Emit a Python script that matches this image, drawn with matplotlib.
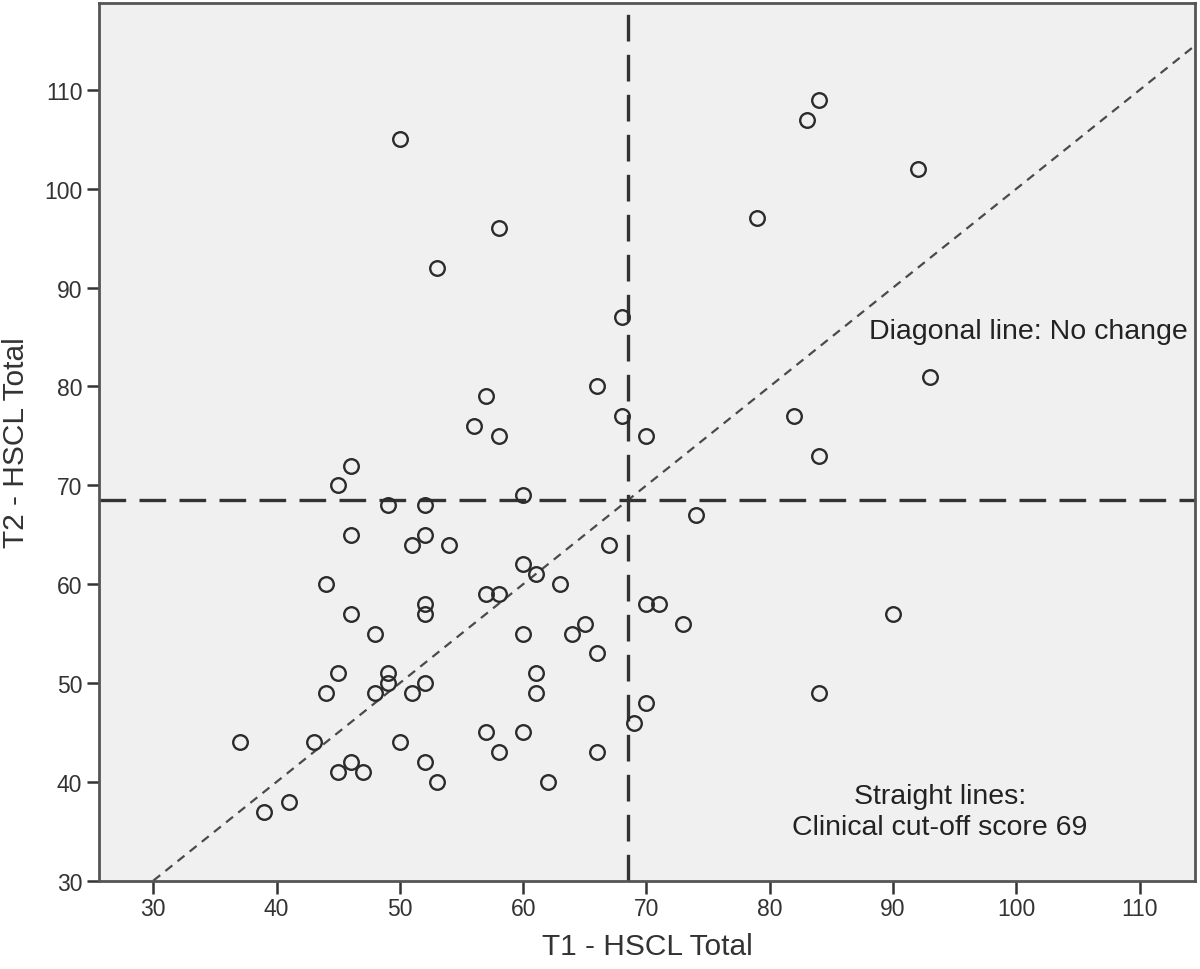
import matplotlib
matplotlib.use("Agg")
import matplotlib.pyplot as plt

plt.rcParams['font.family'] = ['Liberation Sans', 'DejaVu Sans']

# HSCL totals, T1 vs T2
t1 = [37, 39, 41, 43, 44, 44, 45, 45, 45, 46, 46, 46, 46, 47, 48, 48, 49, 49, 49,
      50, 50, 51, 51, 52, 52, 52, 52, 52, 52, 53, 53, 54, 56, 57, 57, 57, 58, 58,
      58, 58, 60, 60, 60, 60, 61, 61, 61, 62, 63, 64, 65, 66, 66, 66, 67, 68, 68,
      69, 70, 70, 70, 71, 73, 74, 79, 82, 83, 84, 84, 84, 90, 92, 93]
t2 = [44, 37, 38, 44, 60, 49, 70, 51, 41, 72, 65, 57, 42, 41, 55, 49, 68, 51, 50,
      105, 44, 64, 49, 68, 65, 58, 57, 50, 42, 92, 40, 64, 76, 79, 59, 45, 96, 75,
      59, 43, 69, 62, 55, 45, 61, 51, 49, 40, 60, 55, 56, 80, 53, 43, 64, 87, 77,
      46, 75, 58, 48, 58, 56, 67, 97, 77, 107, 109, 73, 49, 57, 102, 81]

cutoff = 68.5
xticks = [30, 40, 50, 60, 70, 80, 90, 100, 110]
yticks = [30, 40, 50, 60, 70, 80, 90, 100, 110]

fig = plt.figure(figsize=(12, 9.7), dpi=100)
ax = fig.add_axes([0.0825, 0.091, 0.9135, 0.905])
ax.set_facecolor('#f0f0f0')

ax.set_xlim(25.6, 114.5)
ax.set_ylim(30, 118.8)

# diagonal = no change
ax.plot([30, 120], [30, 120], color='#4a4a4a', lw=1.6, dashes=(4, 3), zorder=2)
# clinical cut-off
ax.axvline(cutoff, color='#333333', lw=2.4, dashes=(8, 4), zorder=2)
ax.axhline(cutoff, color='#333333', lw=2.4, dashes=(8, 4), zorder=2)

ax.plot(t1, t2, 'o', mfc='none', mec='#2b2b2b', ms=10.5, mew=1.7, zorder=3)

ax.text(101.0, 85.6, 'Diagonal line: No change', fontsize=20.5, color='#222222',
        ha='center', va='center')
ax.text(93.8, 38.6, 'Straight lines:', fontsize=20.5, color='#222222',
        ha='center', va='center')
ax.text(93.8, 35.4, 'Clinical cut-off score 69', fontsize=20.5, color='#222222',
        ha='center', va='center')

ax.set_xticks(xticks)
ax.set_yticks(yticks)
ax.tick_params(direction='out', length=9, width=1.8, color='#333333',
               labelsize=16.5, labelcolor='#333333', pad=3)
for s in ax.spines.values():
    s.set_color('#555555')
    s.set_linewidth(2)

ax.set_xlabel('T1 - HSCL Total', fontsize=21.5, color='#333333', labelpad=8)
ax.set_ylabel('T2 - HSCL Total', fontsize=21.5, color='#333333', labelpad=10)

fig.savefig('out.png', dpi=100)
